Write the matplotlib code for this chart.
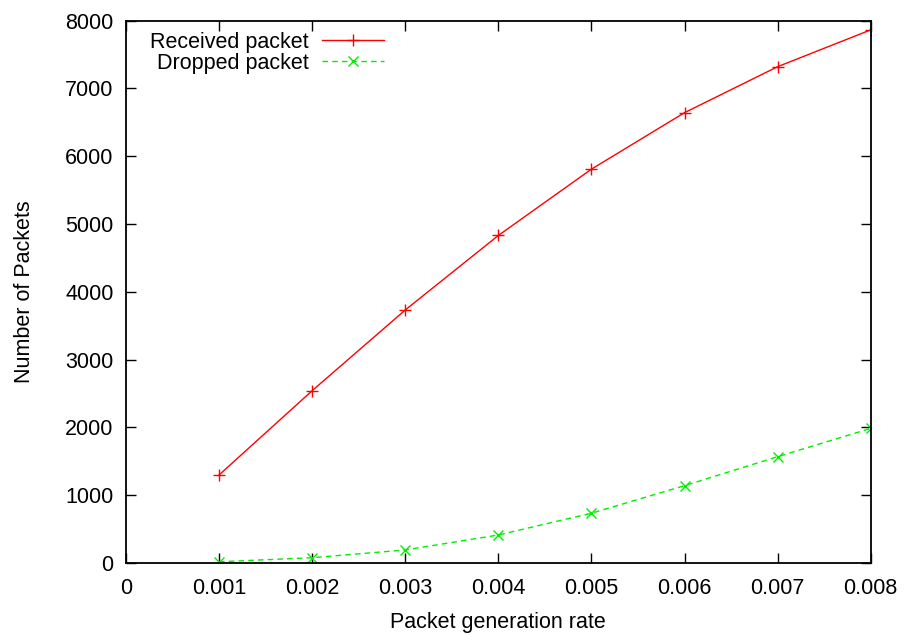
import numpy as np
import matplotlib.pyplot as plt
from matplotlib.ticker import FuncFormatter

plt.rcParams['font.family'] = ['Liberation Sans', 'DejaVu Sans']

# packet generation rate vs packet counts
rate = [0.001, 0.002, 0.003, 0.004, 0.005, 0.006, 0.007, 0.008]
received = [1298, 2541, 3731, 4830, 5808, 6641, 7319, 7862]
dropped = [18, 78, 192, 413, 734, 1140, 1568, 1985]

fs = 15.5

fig = plt.figure(figsize=(9.07, 6.35), dpi=100)
ax = fig.add_axes([0.1389, 0.1134, 0.8211, 0.8543])

ax.plot(rate, received, color='#ff0000', lw=1.0, marker='+', ms=9, mew=1.0,
        label='Received packet')
ax.plot(rate, dropped, color='#00ee00', lw=1.0, ls=(0, (4, 3)), marker='x', ms=7.5, mew=1.0,
        label='Dropped packet')

ax.set_xlim(0, 0.008)
ax.set_ylim(0, 8000)
ax.set_xticks(np.arange(0, 0.0081, 0.001))
ax.set_yticks(np.arange(0, 8001, 1000))
ax.xaxis.set_major_formatter(FuncFormatter(lambda v, p: '%g' % round(v, 4)))

ax.tick_params(direction='in', length=7, width=1.0, top=True, right=True,
               labelsize=fs)
ax.tick_params(axis='x', pad=11)
ax.tick_params(axis='y', pad=9)
for s in ax.spines.values():
    s.set_linewidth(1.3)

ax.set_xlabel('Packet generation rate', fontsize=fs, labelpad=9)
ax.set_ylabel('Number of Packets', fontsize=fs, labelpad=22)

ax.legend(loc='upper left', frameon=False, markerfirst=False, fontsize=fs,
          handlelength=2.9, handletextpad=0.6, labelspacing=0.0,
          borderaxespad=0.0, bbox_to_anchor=(0.0207, 0.995))

fig.savefig('out.png', dpi=100)
